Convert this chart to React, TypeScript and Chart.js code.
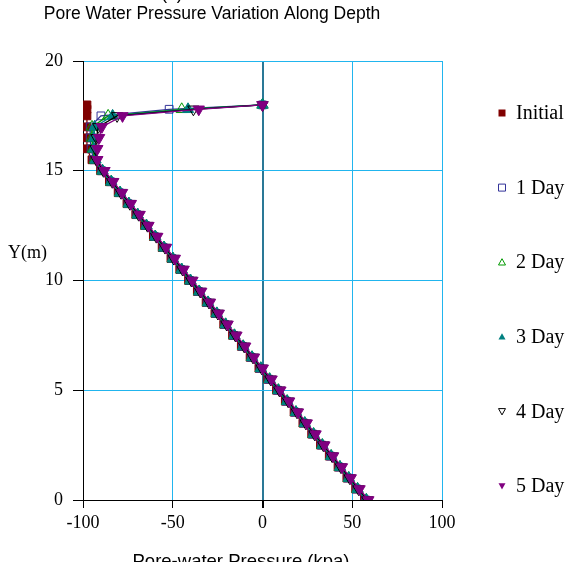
import { useEffect, useRef } from "react";
import { Chart, registerables } from "chart.js";

Chart.register(...registerables);

// Elevation of each node (m)
const depthM = [
  0, 0.5, 1, 1.5, 2, 2.5, 3, 3.5, 4, 4.5, 5, 5.5, 6, 6.5, 7, 7.5, 8, 8.5, 9, 9.5,
  10, 10.5, 11, 11.5, 12, 12.5, 13, 13.5, 14, 14.5, 15, 15.5, 16, 16.5, 17, 17.5, 17.8, 18,
];

// Pore-water pressure (kPa) at each node, per time step
const initialKpa = [
  56.8, 51.9, 47.0, 42.1, 37.2, 32.3, 27.4, 22.5, 17.6, 12.7, 7.8, 2.9, -2.0, -6.9, -11.8, -16.7, -21.6, -26.5, -31.4, -36.3,
  -41.2, -46.1, -51.0, -55.9, -60.8, -65.7, -70.6, -75.5, -80.4, -85.3, -90.2, -95.0, -97.8, -97.8, -97.8, -97.8, -97.8, -97.8,
];
const day1Kpa = [
  57.4, 52.5, 47.6, 42.7, 37.8, 32.9, 28.0, 23.1, 18.2, 13.3, 8.4, 3.5, -1.4, -6.3, -11.2, -16.1, -21.0, -25.9, -30.8, -35.7,
  -40.6, -45.5, -50.4, -55.3, -60.2, -65.1, -70.0, -74.9, -79.8, -84.7, -89.6, -94.0, -95.5, -96.0, -96.0, -90.0, -52.0, 0,
];
const day2Kpa = [
  57.8, 52.9, 48.0, 43.1, 38.2, 33.3, 28.4, 23.5, 18.6, 13.7, 8.8, 3.9, -1.0, -5.9, -10.8, -15.7, -20.6, -25.5, -30.4, -35.3,
  -40.2, -45.1, -50.0, -54.9, -59.8, -64.7, -69.6, -74.5, -79.4, -84.3, -89.2, -93.5, -94.5, -95.0, -95.0, -86.0, -45.0, 0,
];
const day3Kpa = [
  57.9, 53.0, 48.1, 43.2, 38.3, 33.4, 28.5, 23.6, 18.7, 13.8, 8.9, 4.0, -0.9, -5.8, -10.7, -15.6, -20.5, -25.4, -30.3, -35.2,
  -40.1, -45.0, -49.9, -54.8, -59.7, -64.6, -69.5, -74.4, -79.3, -84.2, -89.1, -93.0, -94.0, -94.0, -93.5, -83.5, -41.5, 0,
];
const day4Kpa = [
  58.4, 53.5, 48.6, 43.7, 38.8, 33.9, 29.0, 24.1, 19.2, 14.3, 9.4, 4.5, -0.4, -5.3, -10.2, -15.1, -20.0, -24.9, -29.8, -34.7,
  -39.6, -44.5, -49.4, -54.3, -59.2, -64.1, -69.0, -73.9, -78.8, -83.7, -88.6, -92.5, -93.0, -92.5, -91.5, -81.0, -38.5, 0,
];
const day5Kpa = [
  59.0, 54.1, 49.2, 44.3, 39.4, 34.5, 29.6, 24.7, 19.8, 14.9, 10.0, 5.1, 0.2, -4.7, -9.6, -14.5, -19.4, -24.3, -29.2, -34.1,
  -39.0, -43.9, -48.8, -53.7, -58.6, -63.5, -68.4, -73.3, -78.2, -83.1, -88.0, -92.0, -92.0, -91.0, -89.5, -78.0, -35.5, 0,
];

const seriesNames = ["Initial", "1 Day", "2 Day", "3 Day", "4 Day", "5 Day"];
const seriesValues = [initialKpa, day1Kpa, day2Kpa, day3Kpa, day4Kpa, day5Kpa];

const xTickValues = [-100, -50, 0, 50, 100];
const yTickValues = [0, 5, 10, 15, 20];

const chartTitle = "Pore Water Pressure Variation Along Depth";
const panelTag = "(b)";
const xAxisTitle = "Pore-water Pressure (kpa)";
const yAxisTitle = "Y(m)";

type MarkerKind = "square" | "triangle" | "invTriangle";
interface SeriesStyle {
  color: string;
  filled: boolean;
  kind: MarkerKind;
}
const seriesStyles: SeriesStyle[] = [
  { color: "#800000", filled: true, kind: "square" },
  { color: "#333399", filled: false, kind: "square" },
  { color: "#009900", filled: false, kind: "triangle" },
  { color: "#008080", filled: true, kind: "triangle" },
  { color: "#000000", filled: false, kind: "invTriangle" },
  { color: "#800080", filled: true, kind: "invTriangle" },
];

const GRID_BLUE = "#21b5ee";
const ZERO_LINE = "#2a7896";
const SERIF = "'Liberation Serif', 'Times New Roman', serif";
const SANS = "'Liberation Sans', Arial, sans-serif";

function drawMarker(ctx: CanvasRenderingContext2D, s: SeriesStyle, x: number, y: number, size: number) {
  ctx.save();
  ctx.beginPath();
  const h = size / 2;
  if (s.kind === "square") {
    ctx.rect(x - h, y - h, size, size);
  } else if (s.kind === "triangle") {
    ctx.moveTo(x, y - h);
    ctx.lineTo(x + h, y + h * 0.8);
    ctx.lineTo(x - h, y + h * 0.8);
    ctx.closePath();
  } else {
    ctx.moveTo(x, y + h);
    ctx.lineTo(x + h, y - h * 0.8);
    ctx.lineTo(x - h, y - h * 0.8);
    ctx.closePath();
  }
  if (s.filled) {
    ctx.fillStyle = s.color;
    ctx.fill();
  } else {
    ctx.strokeStyle = s.color;
    ctx.lineWidth = 1;
    ctx.stroke();
  }
  ctx.restore();
}

const annotationPlugin = {
  id: "annotations",
  afterDraw(chart: Chart) {
    const ctx = chart.ctx;
    ctx.save();
    ctx.fillStyle = "#000";

    ctx.font = `17.5px ${SANS}`;
    ctx.textAlign = "center";
    ctx.textBaseline = "alphabetic";
    ctx.fillText(panelTag, 172, -1);

    ctx.textBaseline = "middle";
    ctx.fillText(chartTitle, 212, 14);

    ctx.font = `18.5px ${SANS}`;
    ctx.textBaseline = "top";
    ctx.fillText(xAxisTitle, 241, 553);

    ctx.font = `18px ${SERIF}`;
    ctx.textAlign = "left";
    ctx.textBaseline = "middle";
    ctx.fillText(yAxisTitle, 8, 253);

    // legend
    ctx.font = `20px ${SERIF}`;
    seriesNames.forEach((name, i) => {
      const y = 113 + i * 74.6;
      drawMarker(ctx, seriesStyles[i], 502, y, 7);
      ctx.fillStyle = "#000";
      ctx.fillText(name, 516, y + 1);
    });
    ctx.restore();
  },
};

export default function App() {
  const canvasRef = useRef<HTMLCanvasElement | null>(null);

  useEffect(() => {
    const canvas = canvasRef.current;
    if (!canvas) return;

    const datasets = seriesNames.map((name, i) => {
      const s = seriesStyles[i];
      const isSquare = s.kind === "square";
      return {
        label: name,
        data: depthM.map((y, k) => ({ x: seriesValues[i][k], y })),
        showLine: true,
        borderColor: s.color,
        borderWidth: 1.3,
        backgroundColor: s.filled ? s.color : "rgba(0,0,0,0)",
        pointBackgroundColor: s.filled ? s.color : "rgba(0,0,0,0)",
        pointBorderColor: s.color,
        pointBorderWidth: 1,
        pointStyle: isSquare ? "rect" : "triangle",
        pointRotation: s.kind === "invTriangle" ? 180 : 0,
        pointRadius: isSquare ? 5.5 : 6.5,
        order: seriesNames.length - i,
      };
    });

    const chart = new Chart(canvas, {
      type: "scatter",
      data: { datasets: datasets as any },
      options: {
        responsive: false,
        animation: false,
        layout: { padding: { top: 61, right: 123, left: 0, bottom: 0 } },
        plugins: {
          legend: { display: false },
          title: { display: false },
          tooltip: { enabled: false },
        },
        scales: {
          x: {
            type: "linear",
            min: -100,
            max: 100,
            afterBuildTicks: (scale: any) => {
              scale.ticks = xTickValues.map((v) => ({ value: v }));
            },
            afterFit: (scale: any) => {
              scale.height = 62;
            },
            grid: {
              color: (c: any) =>
                c.tick && c.tick.value === 0 ? ZERO_LINE : c.tick && c.tick.value === -100 ? "#000" : GRID_BLUE,
              lineWidth: (c: any) => (c.tick && c.tick.value === 0 ? 2 : 1),
              tickColor: "#000",
              tickLength: 8,
              drawTicks: true,
            },
            border: { display: true, color: "#000", width: 1 },
            ticks: {
              color: "#000",
              font: { family: SERIF, size: 18 },
              padding: 4,
              maxRotation: 0,
            },
          },
          y: {
            type: "linear",
            min: 0,
            max: 20,
            afterBuildTicks: (scale: any) => {
              scale.ticks = yTickValues.map((v) => ({ value: v }));
            },
            afterFit: (scale: any) => {
              scale.width = 83;
            },
            grid: {
              color: (c: any) => (c.tick && c.tick.value === 0 ? "#000" : GRID_BLUE),
              tickColor: "#000",
              tickLength: 10,
              drawTicks: true,
            },
            border: { display: true, color: "#000", width: 1 },
            ticks: {
              color: "#000",
              font: { family: SERIF, size: 18 },
              padding: 10,
            },
          },
        },
      },
      plugins: [annotationPlugin],
    });

    return () => chart.destroy();
  }, []);

  return (
    <div style={{ position: "fixed", left: 0, top: 0, width: 565, height: 562, background: "#fff" }}>
      <canvas ref={canvasRef} width={565} height={562} style={{ display: "block" }} />
    </div>
  );
}
